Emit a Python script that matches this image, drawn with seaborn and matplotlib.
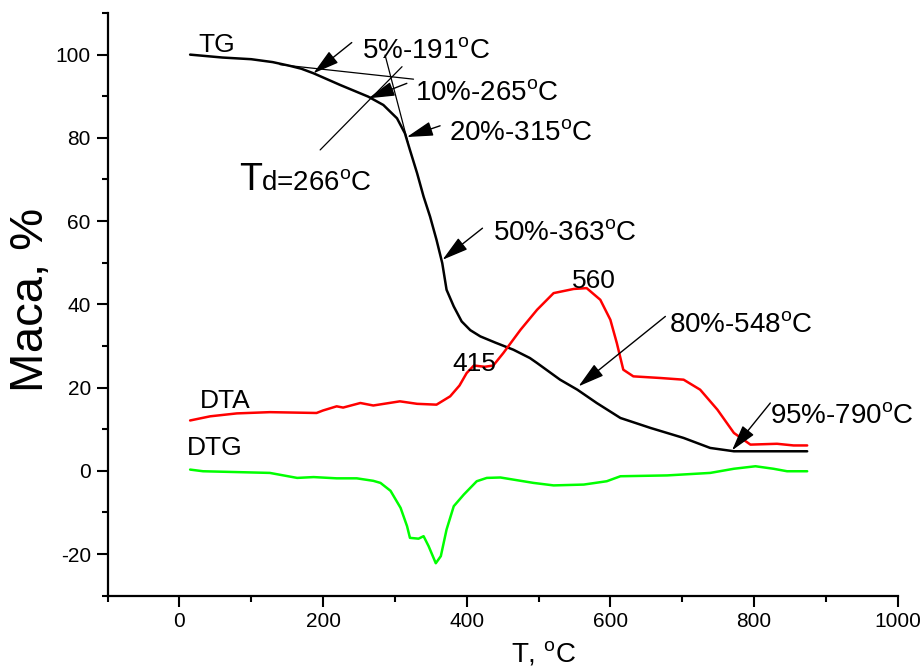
import numpy as np
import pandas as pd
import matplotlib
matplotlib.use("Agg")
import matplotlib.pyplot as plt
from matplotlib.ticker import MultipleLocator
import seaborn as sns

# ---------------- data ----------------
tg_T = [15, 60, 100, 130, 154, 170, 187, 224, 263, 284, 303, 314, 321, 331, 340, 349,
        358, 366, 372, 382, 393, 405, 419, 440, 465, 488, 498, 530, 554, 581, 614, 656,
        702, 739, 772, 874]
tg_m = [100, 99.3, 98.9, 98.2, 97.3, 96.6, 95.5, 92.7, 89.9, 87.9, 84.7, 81.1, 77.1,
        71.5, 65.9, 61.1, 55.5, 49.9, 43.5, 39.5, 35.9, 33.8, 32.3, 30.8, 29.1, 27.1,
        25.9, 21.9, 19.5, 16.3, 12.7, 10.3, 7.9, 5.5, 4.7, 4.7]

dta_T = [15, 43, 80, 126, 191, 200, 219, 228, 252, 270, 307, 331, 358, 377, 390,
         400, 410, 425, 437, 451, 475, 498, 521, 549, 567, 586, 600, 609, 618, 632,
         670, 702, 725, 749, 772, 795, 832, 855, 874]
dta_v = [12.1, 13.1, 13.8, 14.1, 13.9, 14.5, 15.5, 15.2, 16.3, 15.7, 16.7, 16.1,
         15.9, 17.9, 20.5, 23.5, 25.3, 25.0, 25.3, 28.3, 33.9, 38.7, 42.7, 43.7, 43.9,
         41.1, 36.3, 30.7, 24.3, 22.7, 22.3, 21.9, 19.5, 14.7, 9.1, 6.3, 6.5, 6.1, 6.1]

dtg_T = [15, 33, 80, 126, 164, 187, 219, 247, 270, 280, 294, 308, 317, 321, 333,
         340, 347, 357, 364, 372, 382, 396, 414, 428, 447, 493, 521, 563, 595, 614,
         679, 739, 772, 802, 827, 846, 874]
dtg_v = [0.3, -0.1, -0.3, -0.5, -1.7, -1.5, -1.8, -1.8, -2.4, -2.9, -4.8, -8.9,
         -13.3, -16.1, -16.3, -15.7, -18.1, -22.2, -20.5, -14.1, -8.5, -5.7, -2.5,
         -1.7, -1.6, -2.9, -3.5, -3.3, -2.5, -1.3, -1.1, -0.5, 0.5, 1.1, 0.5, -0.1, -0.1]

series_names = ["TG", "DTA", "DTG"]
series_colors = ["black", "#ff0000", "#00ff00"]

x_ticks = [0, 200, 400, 600, 800, 1000]
y_ticks = [-20, 0, 20, 40, 60, 80, 100]

# annotation labels: (text, text_xy, arrow_tail, arrow_tip)
annot_text = ["5%-191", "10%-265", "20%-315", "50%-363", "80%-548", "95%-790"]
annot_xy = [(254, 99.1), (328, 89.1), (374.7, 79.5), (437, 55.5), (681, 33.4), (822.7, 11.5)]
arrow_tail = [(240, 102.9), (316.7, 93.1), (363, 82.9), (422, 58.3), (676.6, 37.1), (822.7, 16.3)]
arrow_tip = [(186.6, 95.5), (263.2, 89.5), (316.7, 80.2), (366.3, 50.7), (555.7, 20.3), (769.3, 4.9)]

# ---------------- style ----------------
sns.set_style("ticks")
plt.rcParams["font.family"] = ["Liberation Sans", "DejaVu Sans"]
plt.rcParams["mathtext.fontset"] = "custom"
plt.rcParams["mathtext.rm"] = "Liberation Sans"
plt.rcParams["mathtext.it"] = "Liberation Sans:italic"
plt.rcParams["text.color"] = "black"
plt.rcParams["axes.labelcolor"] = "black"
plt.rcParams["xtick.color"] = "black"
plt.rcParams["ytick.color"] = "black"
plt.rcParams["axes.edgecolor"] = "black"

df = pd.concat([
    pd.DataFrame({"T": tg_T, "v": tg_m, "s": "TG"}),
    pd.DataFrame({"T": dta_T, "v": dta_v, "s": "DTA"}),
    pd.DataFrame({"T": dtg_T, "v": dtg_v, "s": "DTG"}),
], ignore_index=True)

fig = plt.figure(figsize=(9.24, 6.70), dpi=100)
ax = fig.add_axes([107.5 / 924, 74.3 / 670, 790.2 / 924, 582.7 / 670])

sns.lineplot(data=df, x="T", y="v", hue="s", units="s", estimator=None, sort=False,
             palette=dict(zip(series_names, series_colors)), legend=False,
             linewidth=1.8, ax=ax)

ax.set_xlim(-100, 1000)
ax.set_ylim(-30, 110)
ax.set_xticks(x_ticks)
ax.set_xticklabels([str(t) for t in x_ticks])
ax.set_yticks(y_ticks)
ax.set_yticklabels([str(t) for t in y_ticks])
ax.xaxis.set_minor_locator(MultipleLocator(100))
ax.yaxis.set_minor_locator(MultipleLocator(10))
sns.despine(ax=ax)
for sp in ["left", "bottom"]:
    ax.spines[sp].set_linewidth(1.6)
    ax.spines[sp].set_color("black")
ax.tick_params(which="major", direction="out", length=8, width=1.5, labelsize=15,
               colors="black", pad=4)
ax.tick_params(which="minor", direction="out", length=4, width=1.5, colors="black")
ax.set_xlabel("")
ax.set_ylabel("")

# axis titles
ax.text(0.552, -0.076, r"T, $^\mathregular{o}$C", transform=ax.transAxes,
        ha="center", va="top", fontsize=20)
fig.text(31 / 924, 1 - 300 / 670, "Маса, %", rotation=90, ha="center", va="center",
         fontsize=34)

# tangent construction lines
ax.plot([140, 326], [97.6, 94.1], color="black", lw=0.9)
ax.plot([196, 310], [77.1, 97.1], color="black", lw=0.9)
ax.plot([286.4, 318], [99.9, 79.0], color="black", lw=0.9)

# arrows + labels
for txt, xy, tail, tip in zip(annot_text, annot_xy, arrow_tail, arrow_tip):
    ax.annotate("", xy=tip, xytext=tail,
                arrowprops=dict(arrowstyle="-|>,head_length=0.9,head_width=0.25",
                                color="black", lw=1.0, mutation_scale=18,
                                shrinkA=0, shrinkB=0))
    ax.text(xy[0], xy[1], txt + r"$^\mathregular{o}$C", fontsize=20,
            ha="left", va="baseline")

# series labels and peaks
ax.text(26, 100.6, "TG", fontsize=19, ha="left", va="baseline")
ax.text(29, 15.1, "DTA", fontsize=19, ha="left", va="baseline")
ax.text(10.3, 3.9, "DTG", fontsize=19, ha="left", va="baseline")
ax.text(380, 23.9, "415", fontsize=19, ha="left", va="baseline")
ax.text(546.5, 43.9, "560", fontsize=19, ha="left", va="baseline")

# Td label (large T)
ax.text(83.6, 67.5, "T", fontsize=27, ha="left", va="baseline")
ax.text(113.4, 67.5, r"d=266$^\mathregular{o}$C", fontsize=20, ha="left", va="baseline")

fig.savefig("out.png", dpi=100)
